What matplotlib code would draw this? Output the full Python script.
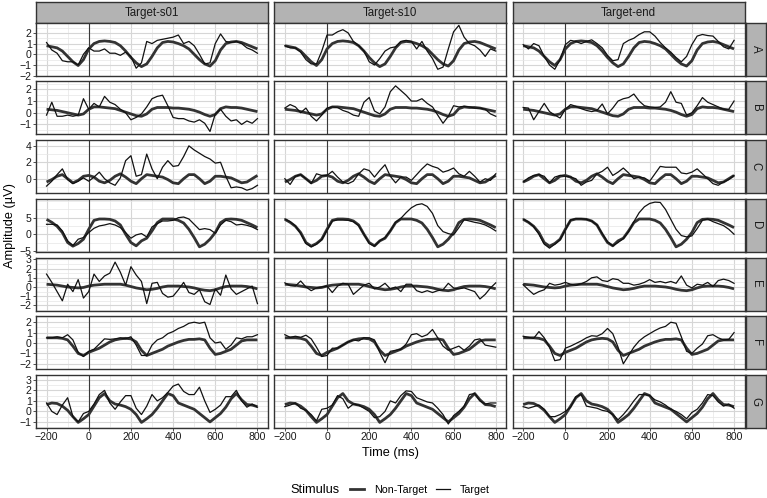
import numpy as np
import matplotlib
matplotlib.use("Agg")
import matplotlib.pyplot as plt
from matplotlib.lines import Line2D
from matplotlib.ticker import MultipleLocator

plt.rcParams["font.family"] = ["Liberation Sans", "DejaVu Sans"]

# time axis (ms), sampled every 25 ms
time = np.arange(-200, 801, 25)

# Non-Target waveforms (same in every column), one per channel row
nt_A = [0.8, 0.7, 0.6, 0.3, -0.2, -0.7, -1.05, -0.5, 0.5, 1.0, 1.2, 1.25, 1.2, 1.1, 0.8, 0.3, -0.3, -0.8, -1.15, -0.9, -0.2,
        0.6, 1.1, 1.2, 1.15, 1.0, 0.8, 0.5, 0.0, -0.5, -0.9, -1.1, -0.6, 0.4, 1.0, 1.15, 1.2, 1.1, 0.9, 0.7, 0.5]
nt_B = [0.3, 0.25, 0.2, 0.1, 0.0, -0.1, -0.2, -0.1, 0.3, 0.5, 0.5, 0.45, 0.4, 0.35, 0.2, 0.05, -0.1, -0.25, -0.3, -0.1, 0.3,
        0.45, 0.45, 0.45, 0.4, 0.4, 0.35, 0.3, 0.2, 0.05, -0.15, -0.3, -0.15, 0.35, 0.5, 0.45, 0.45, 0.4, 0.3, 0.2, 0.1]
nt_C = [-0.4, -0.1, 0.3, 0.5, 0.0, -0.5, -0.2, 0.3, 0.4, 0.2, -0.3, -0.5, -0.2, 0.3, 0.6, 0.2, -0.3, -0.6, 0.0, 0.5, 0.4,
        0.3, 0.2, -0.1, -0.5, -0.6, 0.0, 0.5, 0.5, 0.0, -0.6, -0.3, 0.3, 0.3, 0.2, 0.1, -0.2, -0.5, -0.4, 0.0, 0.4]
nt_D = [4.5, 3.6, 2.4, 0.5, -2.5, -3.6, -2.8, -1.5, 1.5, 4.2, 4.6, 4.6, 4.5, 4.0, 2.8, 0.0, -2.5, -3.5, -2.0, -1.2, 1.0,
        3.5, 4.6, 4.6, 4.6, 4.2, 3.4, 1.5, -1.0, -3.8, -3.0, -1.5, 0.5, 3.5, 4.5, 4.6, 4.5, 4.2, 3.5, 2.8, 2.0]
nt_E = [0.3, 0.25, 0.2, 0.1, 0.0, -0.05, -0.1, -0.05, 0.1, 0.2, 0.25, 0.3, 0.3, 0.3, 0.3, 0.2, 0.05, -0.1, -0.2, -0.3, -0.25,
        -0.15, 0.0, 0.1, 0.1, 0.1, 0.05, 0.0, -0.1, -0.25, -0.35, -0.4, -0.3, -0.1, 0.05, 0.1, 0.1, 0.1, 0.05, -0.05, -0.2]
nt_F = [0.5, 0.5, 0.5, 0.45, 0.3, -0.3, -1.0, -1.2, -0.9, -0.7, -0.5, -0.2, 0.1, 0.3, 0.4, 0.45, 0.4, 0.1, -0.7, -1.2, -1.0,
        -0.8, -0.6, -0.3, -0.1, 0.1, 0.25, 0.35, 0.35, 0.4, 0.3, -0.5, -1.1, -1.0, -0.8, -0.6, -0.2, 0.2, 0.3, 0.3, 0.3]
nt_G = [0.65, 0.8, 0.75, 0.5, 0.1, -0.5, -1.05, -0.7, -0.3, 0.5, 1.3, 1.7, 1.0, 0.7, 0.6, 0.45, 0.2, -0.3, -1.05, -0.7, -0.3,
        0.3, 1.0, 1.7, 1.5, 0.8, 0.6, 0.4, 0.2, -0.2, -0.6, -1.0, -0.6, -0.2, 0.4, 1.2, 1.7, 1.1, 0.65, 0.6, 0.45]

# Target waveforms, Target-s01 column
s01_A = [1.1, 0.4, 0.1, -0.6, -0.7, -0.7, -1.0, 0.0, 0.6, 0.3, 0.3, 0.5, 0.1, 0.1, -0.1, 0.2, -0.2, -1.3, -0.8, 1.2, 1.0,
         1.3, 1.4, 1.5, 1.6, 1.8, 1.0, 1.2, 0.8, 0.0, -0.9, -0.8, 1.0, 1.9, 1.2, 1.1, 1.2, 1.0, 0.6, 0.4, 0.1]
s01_B = [-0.2, 0.9, -0.3, -0.3, -0.2, -0.3, -0.2, 1.2, 0.3, 0.8, 0.5, 1.4, 0.9, 0.7, 0.3, 0.0, -0.6, -0.4, -0.1, 0.5, 1.2,
         1.4, 1.5, 0.6, -0.4, -0.5, -0.5, -0.7, -0.8, -0.6, -0.9, -1.6, -0.1, 0.3, -0.3, -0.7, -0.6, -1.0, -0.7, -0.9, -0.5]
s01_C = [-0.9, -0.3, 0.5, 1.2, -0.1, -0.6, -0.3, 0.1, -0.3, 0.2, 0.8, 0.0, -0.5, -0.8, 0.1, 2.2, 2.8, 0.3, 0.5, 3.0, 1.2,
         0.0, 1.4, 2.2, 1.5, 1.6, 2.7, 4.0, 3.5, 3.1, 2.7, 2.4, 1.9, 2.0, 0.3, -1.1, -1.0, -1.1, -1.4, -1.2, -0.8]
s01_D = [3.0, 3.0, 2.8, 1.0, -2.0, -3.4, -1.5, -1.0, 0.5, 1.8, 2.5, 2.8, 3.2, 2.8, 2.0, 0.5, -1.2, -0.2, 0.2, -0.8, 2.2,
         3.2, 4.0, 4.0, 4.2, 5.0, 5.2, 4.6, 3.0, 1.4, 1.7, 1.4, 0.3, 2.8, 4.2, 3.8, 2.8, 3.0, 2.7, 2.2, 1.4]
s01_E = [1.4, 0.5, -0.5, -1.5, 0.3, -0.5, 0.8, -1.2, -0.5, 1.4, 0.6, 1.2, 1.5, 2.7, 1.6, 0.2, 2.2, 1.3, 0.6, -1.8, 0.4,
         0.5, -0.7, -1.1, -1.0, -0.3, 0.5, -0.6, -0.8, -0.3, -1.6, -1.9, -0.2, -0.9, 1.3, -0.2, -0.8, -0.5, -0.2, 0.1, -1.8]
s01_F = [0.5, 0.5, 0.6, 0.5, 0.8, 0.3, -0.9, -1.3, -0.8, -0.6, -0.1, 0.4, 0.35, 0.4, 0.5, 0.4, 0.6, -0.2, -1.2, -1.2, -0.2,
         0.3, 0.5, 0.9, 1.1, 1.4, 1.6, 1.9, 2.0, 1.9, 2.0, 0.5, 0.0, 0.1, -0.6, -0.2, 0.5, 0.4, 0.6, 0.6, 0.8]
s01_G = [0.8, 0.0, -0.3, 0.6, 1.3, -0.5, -1.0, -0.2, 0.0, 0.7, 1.6, 2.0, 0.8, 0.2, 0.9, 1.5, 1.5, 0.3, -0.3, 0.5, 1.6,
         1.0, 1.3, 1.8, 2.4, 2.6, 1.9, 1.6, 1.6, 2.3, 1.0, -0.1, 0.2, 0.6, 1.4, 1.4, 2.0, 1.0, 0.4, 0.7, 0.4]

# Target waveforms, Target-s10 column
s10_A = [0.8, 0.6, 0.6, 0.2, -0.5, -0.9, -0.9, 0.3, 1.8, 1.8, 2.1, 2.3, 2.0, 1.2, 0.8, 0.3, -0.7, -1.0, -0.4, 0.3, 0.6,
         0.7, 1.2, 1.3, 1.2, 0.5, 1.2, 0.3, -0.4, -1.4, -1.2, 0.5, 2.1, 2.7, 1.6, 1.0, 0.8, 0.4, -0.2, 0.5, 0.3]
s10_B = [0.4, 0.7, 0.5, 0.0, 0.4, -0.3, -0.7, -0.2, 0.4, 0.5, 0.45, 0.2, 0.05, -0.2, -0.3, 0.9, 1.3, 0.15, -0.1, 0.5, 1.8,
         2.3, 1.9, 1.5, 1.0, 1.0, 1.2, 0.8, 0.5, -0.2, -0.9, -0.3, 0.6, 0.5, 0.55, 0.5, 0.4, 0.4, 0.3, -0.1, -0.3]
s10_C = [0.0, -0.7, 0.3, 0.5, 0.0, -0.6, 0.6, 0.4, 0.4, 0.9, 0.2, -0.4, -0.6, -0.3, 0.6, 1.2, 1.0, 0.2, 1.0, 1.7, 0.3,
         -0.5, 0.2, 0.2, -0.2, 0.5, 1.2, 1.8, 1.5, 1.3, 0.8, 1.0, 1.3, 0.6, 0.3, 0.9, 0.3, -0.4, 0.0, -0.2, 0.6]
s10_D = [4.6, 3.8, 2.5, 0.2, -2.8, -3.8, -3.0, -1.6, 1.2, 4.0, 4.3, 4.3, 4.2, 3.8, 2.6, 0.0, -2.8, -3.6, -2.0, -1.0, 1.0,
         3.6, 4.8, 6.5, 8.0, 8.9, 9.2, 8.4, 6.3, 2.6, 0.8, 0.2, -0.2, 2.0, 4.4, 4.0, 3.6, 3.3, 2.8, 2.0, 1.0]
s10_E = [0.45, 0.15, 0.1, 0.65, 0.0, -0.4, -0.1, 0.0, 0.1, -0.6, 0.1, 0.4, 0.3, -0.8, -0.3, 0.2, 0.4, -0.2, 0.0, 0.4, -0.2,
         0.0, -0.5, 0.3, 0.3, -0.4, -0.6, -0.4, -0.6, -0.4, -0.3, 0.4, -0.1, -0.2, -0.1, -0.3, -0.5, -1.3, -0.8, -0.1, 0.45]
s10_F = [0.8, 0.55, 0.65, 0.55, 0.75, 0.4, -0.4, -1.3, -1.2, -0.5, -0.5, -0.2, 0.1, 0.3, 0.2, 0.5, 0.5, 0.3, -0.9, -1.9, -0.8,
         -0.7, -0.6, -0.1, 0.8, 0.9, 0.6, 0.8, 1.3, 0.5, -0.3, -0.7, -0.5, -0.3, -0.7, -0.3, 0.3, 0.4, -0.2, -0.3, -0.4]
s10_G = [0.45, 0.6, 0.8, 0.3, 0.1, -0.3, -0.9, 0.2, 0.3, 0.6, 1.5, 1.2, 0.3, 0.7, 0.6, 0.3, 0.0, -0.6, -0.5, 0.0, 1.0,
         0.8, 1.5, 1.95, 1.9, 1.3, 1.1, 0.9, 0.8, 0.3, -0.3, -1.2, -0.4, 0.0, 0.5, 1.6, 1.7, 1.0, 0.7, 0.8, 0.8]

# Target waveforms, Target-end column
end_A = [0.9, 0.5, 1.0, 0.8, -0.2, -1.0, -1.4, -0.5, 0.9, 1.3, 1.2, 1.0, 1.2, 1.35, 1.0, 0.6, -0.1, -0.6, -0.5, 1.0, 1.3,
         1.5, 1.85, 2.1, 2.1, 1.7, 1.1, 0.6, 0.2, -0.3, -0.7, -0.2, 0.9, 1.7, 1.85, 1.75, 1.7, 1.2, 0.7, 0.5, 1.3]
end_B = [0.45, 0.4, -0.6, 0.1, 0.8, 0.1, -0.2, -0.45, 0.3, 0.7, 0.55, 0.35, 0.2, 0.1, 0.2, 0.75, -0.1, 0.4, 1.0, 1.2, 1.3,
         1.6, 1.0, 0.6, 0.5, 0.45, 0.5, 0.9, 1.8, 0.9, 0.8, -0.2, 0.0, 0.6, 1.3, 0.9, 0.7, 0.5, 0.3, 0.3, 1.0]
end_C = [-0.4, 0.1, 0.4, 0.5, 0.3, -0.5, 0.2, 0.4, 0.3, 0.2, 0.0, -0.8, -0.4, -0.2, 0.6, 0.9, 1.4, 0.4, 0.8, 1.3, 0.7,
         0.0, 0.2, 0.1, -0.3, 0.6, 1.5, 1.4, 1.4, 1.4, 0.7, 0.6, 0.8, 1.2, 0.6, 0.0, -0.6, -0.8, -0.4, -0.1, 0.4]
end_D = [4.6, 3.7, 2.3, 0.0, -3.0, -4.2, -3.0, -1.7, 1.3, 4.3, 4.7, 4.7, 4.5, 4.0, 2.8, 0.2, -2.3, -3.5, -2.5, -1.3, 0.8,
         3.8, 6.5, 8.3, 9.3, 9.7, 9.6, 7.5, 4.5, 1.5, -0.4, -0.8, -0.5, 1.7, 4.2, 4.6, 3.8, 3.2, 2.6, 1.5, 0.0]
end_E = [0.25, -0.3, -0.8, -0.5, -0.3, 0.4, 0.2, 0.3, 0.5, 0.3, 0.2, 0.35, 0.6, 1.0, 1.1, 0.7, 0.6, 0.9, 0.8, 0.4, 0.4,
         0.2, 0.3, 0.5, 0.8, 0.5, 0.6, 0.45, 0.6, 0.4, 1.2, 0.2, -0.1, 0.3, 0.2, 0.5, 0.05, 0.7, 0.85, 0.7, 0.4]
end_F = [0.65, 0.55, 0.45, 1.1, 0.5, -0.4, -1.7, -1.6, -0.5, -0.3, -0.05, 0.2, 0.5, 0.7, 0.65, 0.9, 1.4, 0.9, -0.4, -2.0, -1.2,
         -0.4, 0.2, 0.6, 0.9, 1.2, 1.45, 1.6, 2.0, 1.9, 0.6, -0.8, -1.0, -0.5, -0.1, 0.7, 0.8, 0.5, 0.3, 0.35, 1.0]
end_G = [0.45, 0.3, 0.45, 0.6, 0.2, -0.5, -0.5, -0.3, 0.0, 0.4, 1.4, 1.6, 0.5, 0.4, 0.3, 0.1, 0.0, -0.3, -0.8, -0.3, 0.3,
         1.0, 1.6, 1.6, 1.5, 1.1, 0.9, 0.6, 0.2, 0.0, -0.3, -0.7, -0.1, 0.2, 0.8, 1.6, 1.5, 0.9, 0.5, 0.7, 0.3]

columns = ["Target-s01", "Target-s10", "Target-end"]
channels = ["A", "B", "C", "D", "E", "F", "G"]
non_target = {"A": nt_A, "B": nt_B, "C": nt_C, "D": nt_D, "E": nt_E, "F": nt_F, "G": nt_G}
target = {
    "Target-s01": {"A": s01_A, "B": s01_B, "C": s01_C, "D": s01_D, "E": s01_E, "F": s01_F, "G": s01_G},
    "Target-s10": {"A": s10_A, "B": s10_B, "C": s10_C, "D": s10_D, "E": s10_E, "F": s10_F, "G": s10_G},
    "Target-end": {"A": end_A, "B": end_B, "C": end_C, "D": end_D, "E": end_E, "F": end_F, "G": end_G},
}

# per-row y ranges and breaks (free y scale by row)
ylims = {"A": (-2.0, 2.95), "B": (-1.85, 2.68), "C": (-1.75, 4.7), "D": (-5.3, 10.7),
         "E": (-2.55, 3.2), "F": (-2.52, 2.58), "G": (-1.57, 3.47)}
ybreaks = {"A": [-2, -1, 0, 1, 2], "B": [-1, 0, 1, 2], "C": [0, 2, 4], "D": [-5, 0, 5],
           "E": [-2, -1, 0, 1, 2, 3], "F": [-2, -1, 0, 1, 2], "G": [-1, 0, 1, 2, 3]}
xbreaks = [-200, 0, 200, 400, 600, 800]

W, H = 767, 498
fig = plt.figure(figsize=(W / 100, H / 100), dpi=100)


def px_axes(x0, y0, w, h):
    return fig.add_axes([x0 / W, 1 - (y0 + h) / H, w / W, h / H])


border = "#333333"
strip_fill = "#B3B3B3"
left0, pw, pitch_x = 36, 232, 238.3
top0, ph, pitch_y = 22.7, 53, 58.7

for j, col in enumerate(columns):
    x0 = left0 + j * pitch_x
    # column strip
    sax = px_axes(x0, 2.5, pw, top0 - 2.5)
    sax.set_facecolor(strip_fill)
    sax.set_xticks([]); sax.set_yticks([])
    for s in sax.spines.values():
        s.set_color(border); s.set_linewidth(1.0)
    sax.text(0.5, 0.5, col, ha="center", va="center", fontsize=8.3, color="#1a1a1a", transform=sax.transAxes)

    for i, ch in enumerate(channels):
        y0 = top0 + i * pitch_y
        ax = px_axes(x0, y0, pw, ph)
        ax.set_xlim(-250, 850)
        ax.set_ylim(*ylims[ch])
        ax.set_xticks(xbreaks)
        ax.xaxis.set_minor_locator(MultipleLocator(100))
        brk = ybreaks[ch]
        step = brk[1] - brk[0]
        ax.set_yticks(brk)
        ax.yaxis.set_minor_locator(MultipleLocator(step / 2))
        ax.grid(True, which="major", color="#D6D6D6", lw=0.8)
        ax.grid(True, which="minor", color="#E6E6E6", lw=0.5)
        ax.set_axisbelow(True)
        ax.axvline(0, color="#3a3a3a", lw=0.8, zorder=2)
        ax.plot(time, non_target[ch], color="#333333", lw=2.0, zorder=3, solid_capstyle="butt")
        ax.plot(time, target[col][ch], color="#111111", lw=0.9, zorder=4)
        for s in ax.spines.values():
            s.set_color(border); s.set_linewidth(1.0)
        ax.tick_params(which="minor", length=0)
        ax.tick_params(which="major", length=2, width=0.6, color="#333333",
                       labelsize=7.6, labelcolor="#1a1a1a", pad=1)
        if j > 0:
            ax.tick_params(axis="y", which="major", length=0, labelleft=False)
        if i < len(channels) - 1:
            ax.tick_params(axis="x", which="major", length=0, labelbottom=False)

        if j == len(columns) - 1:
            rax = px_axes(x0 + pw + 1.5, y0, 19.5, ph)
            rax.set_facecolor(strip_fill)
            rax.set_xticks([]); rax.set_yticks([])
            for s in rax.spines.values():
                s.set_color(border); s.set_linewidth(1.0)
            rax.text(0.5, 0.5, ch, ha="center", va="center", rotation=-90, fontsize=8.3,
                     color="#1a1a1a", transform=rax.transAxes)

fig.text(10 / W, 1 - 225 / H, "Amplitude (\u00b5V)", rotation=90, ha="center", va="center", fontsize=9.2)
fig.text(390 / W, 1 - 453 / H, "Time (ms)", ha="center", va="center", fontsize=9.2)

# legend
fig.text(315 / W, 1 - 490 / H, "Stimulus", ha="center", va="center", fontsize=9.2)
handles = [Line2D([], [], color="#333333", lw=2.0), Line2D([], [], color="#111111", lw=0.9)]
fig.legend(handles, ["Non-Target", "Target"], loc="center", bbox_to_anchor=(420 / W, 1 - 490 / H),
           ncol=2, frameon=False, fontsize=7.7, handlelength=1.3, handletextpad=0.9, columnspacing=0.85,
           borderaxespad=0, borderpad=0)

fig.savefig("out.png", dpi=100)
